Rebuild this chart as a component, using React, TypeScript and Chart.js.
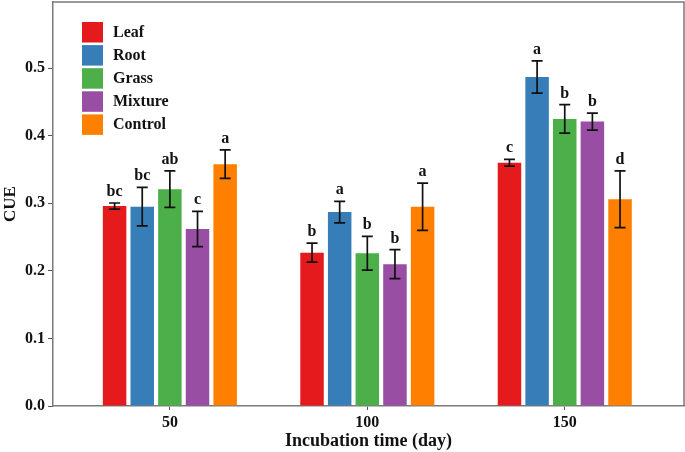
import React, { useEffect, useRef } from "react";
import { Chart, registerables } from "chart.js";

Chart.register(...registerables);

const days = [50, 100, 150];
const xTickLabels = ["50", "100", "150"];
const yTicks = [0, 0.1, 0.2, 0.3, 0.4, 0.5];
const seriesNames = ["Leaf", "Root", "Grass", "Mixture", "Control"];
const seriesColors = ["#E41A1C", "#377EB8", "#4DAF4A", "#984EA3", "#FF7F00"];

const leaf = [0.296, 0.227, 0.36];
const root = [0.295, 0.287, 0.487];
const grass = [0.321, 0.226, 0.425];
const mixture = [0.262, 0.21, 0.421];
const control = [0.358, 0.295, 0.306];

const leafErr = [0.0045, 0.014, 0.005];
const rootErr = [0.0285, 0.016, 0.024];
const grassErr = [0.027, 0.025, 0.021];
const mixtureErr = [0.026, 0.0215, 0.0126];
const controlErr = [0.021, 0.035, 0.042];

const leafSig = ["bc", "b", "c"];
const rootSig = ["bc", "a", "a"];
const grassSig = ["ab", "b", "b"];
const mixtureSig = ["c", "b", "b"];
const controlSig = ["a", "a", "d"];

const values = [leaf, root, grass, mixture, control];
const errors = [leafErr, rootErr, grassErr, mixtureErr, controlErr];
const letters = [leafSig, rootSig, grassSig, mixtureSig, controlSig];

const FONT = "'Liberation Serif', 'Times New Roman', serif";
const AXIS_COLOR = "#7a7a7a";

const annotPlugin = {
  id: "annot",
  afterDatasetsDraw(chart: any) {
    const ctx = chart.ctx;
    const y = chart.scales.y;
    ctx.save();
    // error bars and letters
    values.forEach((vals, i) => {
      const meta = chart.getDatasetMeta(i);
      vals.forEach((v, j) => {
        const bar = meta.data[j];
        if (!bar) return;
        const x = bar.x;
        const e = errors[i][j];
        const yt = y.getPixelForValue(v + e);
        const yb = y.getPixelForValue(v - e);
        ctx.strokeStyle = "#111";
        ctx.lineWidth = 1.7;
        ctx.beginPath();
        ctx.moveTo(x, yt);
        ctx.lineTo(x, yb);
        ctx.moveTo(x - 5.5, yt);
        ctx.lineTo(x + 5.5, yt);
        ctx.moveTo(x - 5.5, yb);
        ctx.lineTo(x + 5.5, yb);
        ctx.stroke();
        ctx.fillStyle = "#111";
        ctx.font = `bold 16px ${FONT}`;
        ctx.textAlign = "center";
        ctx.textBaseline = "alphabetic";
        ctx.fillText(letters[i][j], x, yt - 7);
      });
    });
    ctx.restore();
  },
  afterDraw(chart: any) {
    const ctx = chart.ctx;
    const a = chart.chartArea;
    ctx.save();
    ctx.strokeStyle = AXIS_COLOR;
    ctx.lineWidth = 1.5;
    ctx.beginPath();
    ctx.moveTo(a.left, a.top);
    ctx.lineTo(a.right, a.top);
    ctx.lineTo(a.right, a.bottom);
    ctx.stroke();
    // legend
    const bx = a.left + 29;
    const by = a.top + 20;
    seriesNames.forEach((name, i) => {
      const top = by + i * 23.1;
      ctx.fillStyle = seriesColors[i];
      ctx.fillRect(bx, top, 21, 20.5);
      ctx.fillStyle = "#111";
      ctx.font = `bold 16px ${FONT}`;
      ctx.textAlign = "left";
      ctx.textBaseline = "middle";
      ctx.fillText(name, bx + 31, top + 10.5);
    });
    ctx.restore();
  },
};

export default function App() {
  const ref = useRef<HTMLCanvasElement>(null);
  useEffect(() => {
    document.body.style.margin = "0";
    const chart = new Chart(ref.current!, {
      type: "bar",
      data: {
        datasets: seriesNames.map((name, i) => ({
          label: name,
          data: days.map((d, j) => ({ x: d, y: values[i][j] })),
          backgroundColor: seriesColors[i],
          borderWidth: 0,
          categoryPercentage: 0.7,
          barPercentage: 0.85,
        })),
      },
      options: {
        animation: false,
        responsive: false,
        devicePixelRatio: 1,
        layout: { padding: { top: 2, right: 1, left: 0, bottom: 0 } },
        plugins: { legend: { display: false }, tooltip: { enabled: false } },
        scales: {
          x: {
            type: "linear",
            min: 20.4,
            max: 180.2,
            offset: false,
            afterBuildTicks: (s: any) => {
              s.ticks = days.map((d) => ({ value: d }));
            },
            afterFit: (s: any) => {
              s.height = 46;
              s.paddingLeft = 0;
              s.paddingRight = 0;
            },
            grid: {
              display: true,
              drawOnChartArea: false,
              drawTicks: true,
              tickLength: 4,
              color: "#555",
              offset: false,
            },
            border: { display: true, color: AXIS_COLOR, width: 1.5 },
            ticks: {
              autoSkip: false,
              maxRotation: 0,
              padding: 3,
              color: "#111",
              font: { family: FONT, weight: "bold", size: 16 },
              callback: (v: any) => {
                const k = days.indexOf(Number(v));
                return k >= 0 ? xTickLabels[k] : "";
              },
            },
            title: {
              display: true,
              text: "Incubation time (day)",
              color: "#111",
              padding: 0,
              font: { family: FONT, weight: "bold", size: 18 },
            },
          },
          y: {
            min: 0,
            max: 0.598,
            afterBuildTicks: (s: any) => {
              s.ticks = yTicks.map((v) => ({ value: v }));
            },
            afterFit: (s: any) => {
              s.width = 53;
              s.paddingTop = 0;
              s.paddingBottom = 0;
            },
            grid: {
              display: true,
              drawOnChartArea: false,
              drawTicks: true,
              tickLength: 5,
              color: "#555",
            },
            border: { display: true, color: AXIS_COLOR, width: 1.5 },
            ticks: {
              padding: 3,
              color: "#111",
              font: { family: FONT, weight: "bold", size: 16 },
              callback: (v: any) => Number(v).toFixed(1),
            },
            title: {
              display: true,
              text: "CUE",
              color: "#111",
              padding: 0,
              font: { family: FONT, weight: "bold", size: 17 },
            },
          },
        },
      },
      plugins: [annotPlugin],
    } as any);
    return () => chart.destroy();
  }, []);
  return (
    <div style={{ width: 685, height: 452, background: "#fff" }}>
      <canvas ref={ref} width={685} height={452} style={{ width: 685, height: 452, display: "block" }} />
    </div>
  );
}
